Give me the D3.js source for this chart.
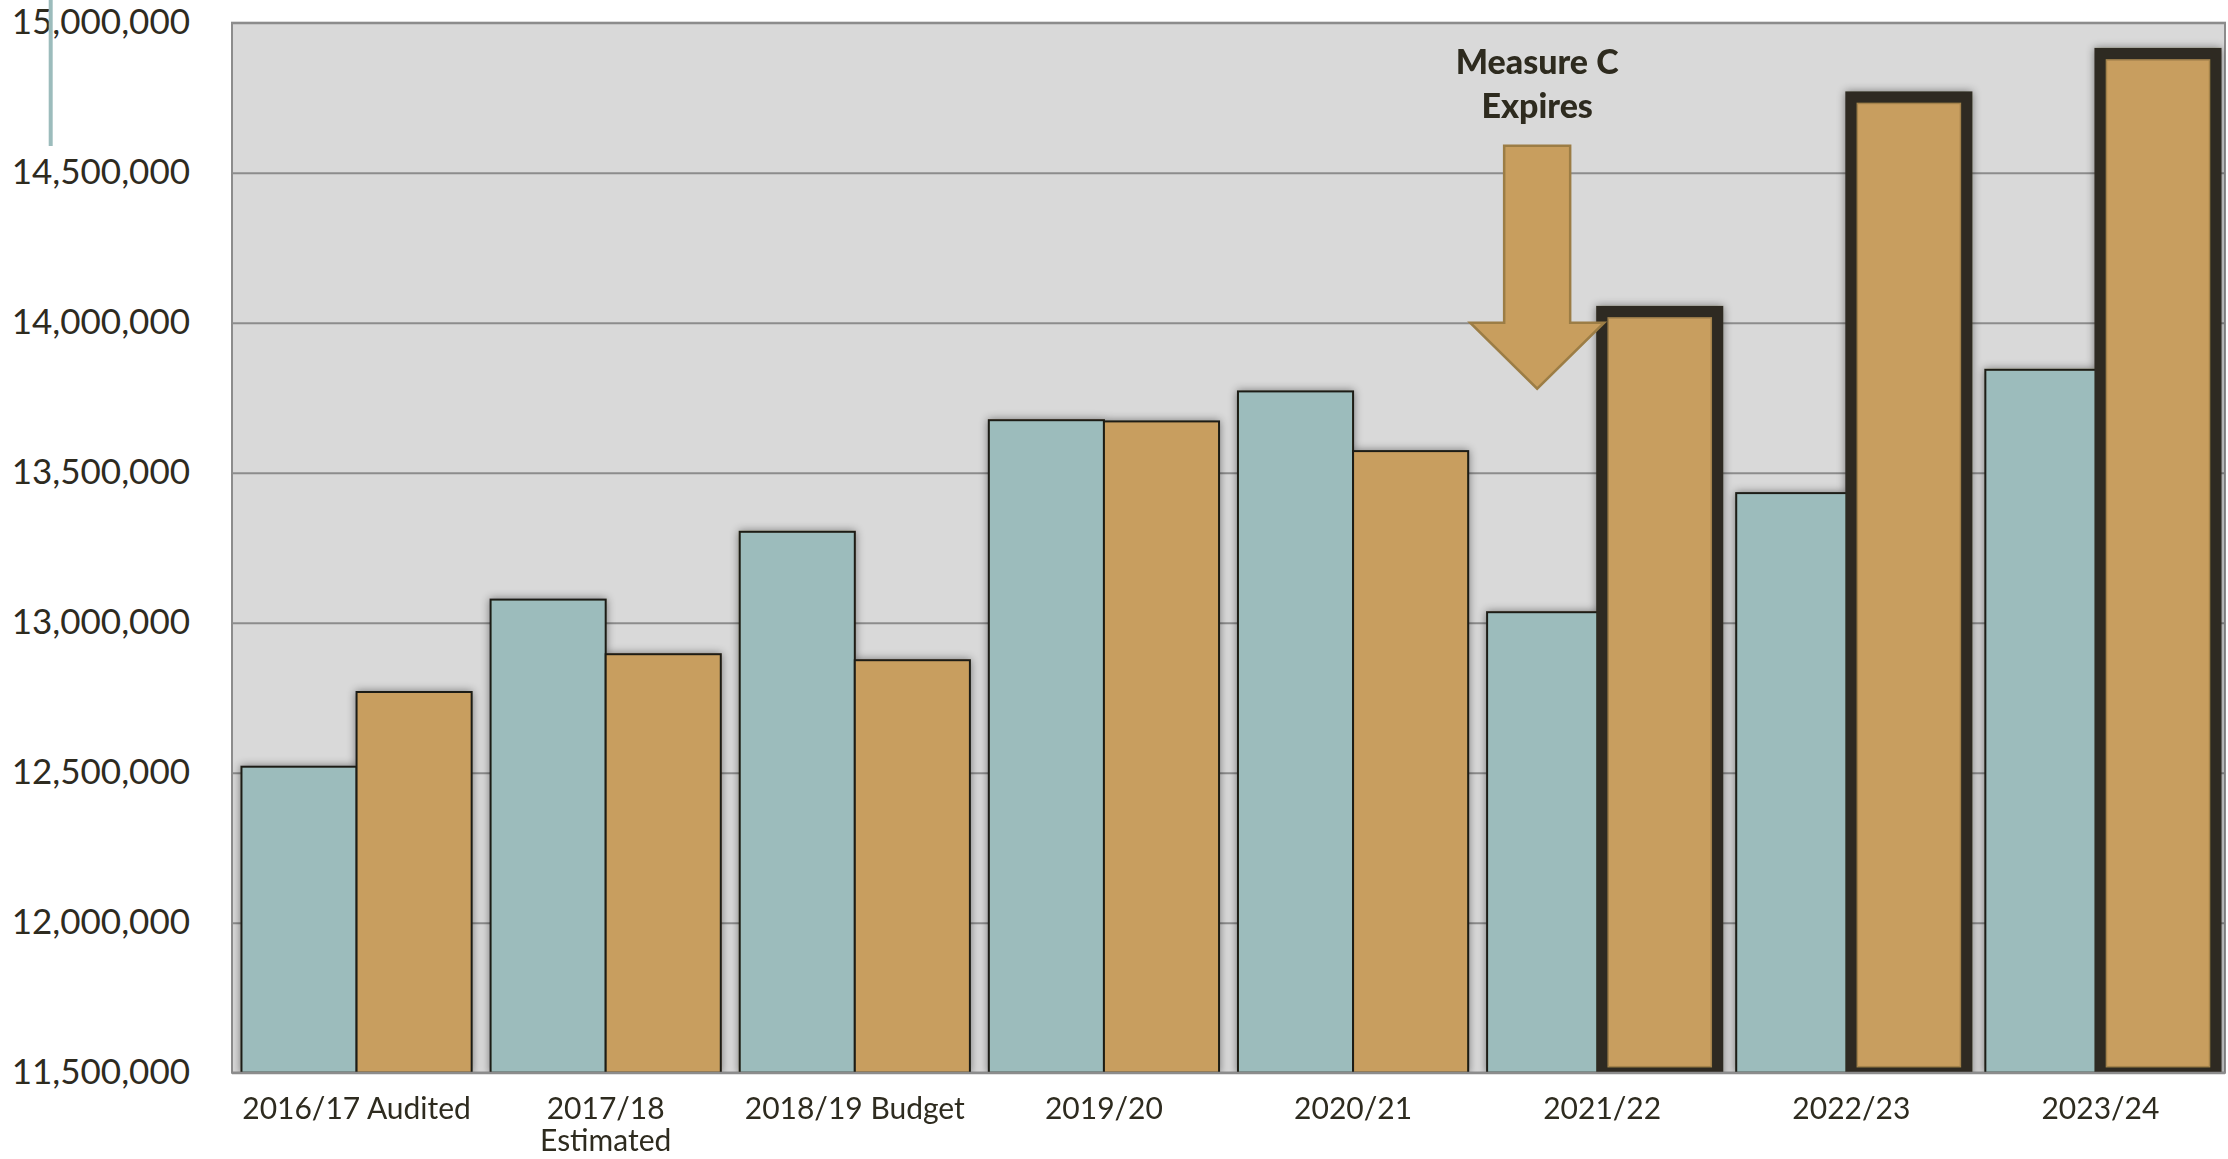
<!DOCTYPE html>
<html>
<head>
<meta charset="utf-8">
<script src="https://cdn.jsdelivr.net/npm/d3@7"></script>
<style>
body { margin: 0; background: #fff; }
text { font-family: Lato, "Noto Sans", sans-serif; fill: #2e2b1f; }
</style>
</head>
<body>
<div id="display"><svg width="2228" height="1159"></svg></div>
<script>
// values
var categories = ["2016/17 Audited", "2017/18 Estimated", "2018/19 Budget", "2019/20",
                  "2020/21", "2021/22", "2022/23", "2023/24"];
var tickLabels = [["2016/17 Audited"], ["2017/18", "Estimated"], ["2018/19 Budget"], ["2019/20"],
                  ["2020/21"], ["2021/22"], ["2022/23"], ["2023/24"]];
var tealValues = [12520000, 13077000, 13303000, 13675000, 13771000, 13035000, 13432000, 13843000];
var goldValues = [12769000, 12895000, 12875000, 13671000, 13572000, 14036000, 14751000, 14896000];
var yTicks = [11500000, 12000000, 12500000, 13000000, 13500000, 14000000, 14500000, 15000000];
var highlighted = ["2021/22", "2022/23", "2023/24"];
var noteLines = ["Measure C", "Expires"];
var noteCategory = "2021/22";
var arrowLevels = [14590000, 14000000, 13780000]; // shaft top, head base, tip

var svg = d3.select("#display svg");
// note: "top" is a window global, so use other names
var pLeft = 232, pRight = 2225, pTop = 22.7, pBottom = 1072.7;

var x0 = d3.scaleBand().domain(categories).range([pLeft, pRight])
    .paddingInner(0.076).paddingOuter(0.038);
var x1 = d3.scaleBand().domain(["teal", "gold"]).range([0, x0.bandwidth()]);
var y = d3.scaleLinear().domain([11500000, 15000000]).range([pBottom, pTop]);

var defs = svg.append("defs");
var f = defs.append("filter").attr("id", "shadow")
    .attr("x", "-10%").attr("y", "-10%").attr("width", "120%").attr("height", "120%");
f.append("feDropShadow").attr("dx", 0).attr("dy", 0).attr("stdDeviation", 4)
    .attr("flood-color", "#000").attr("flood-opacity", 0.45);
defs.append("clipPath").attr("id", "plotclip").append("rect")
    .attr("x", pLeft).attr("y", pTop - 10)
    .attr("width", pRight - pLeft).attr("height", pBottom - pTop + 10);

// plot background
svg.append("rect").attr("x", pLeft).attr("y", pTop)
    .attr("width", pRight - pLeft).attr("height", pBottom - pTop)
    .attr("fill", "#d9d9d9").attr("stroke", "#8c8c8c").attr("stroke-width", 2);

// gridlines
svg.append("g").attr("transform", "translate(" + pLeft + ",0)")
    .call(d3.axisLeft(y).tickValues(yTicks).tickSize(-(pRight - pLeft)).tickFormat(""))
    .call(function(g) { g.select(".domain").remove(); })
    .selectAll("line").attr("stroke", "#8c8c8c").attr("stroke-width", 2);

// y labels
svg.append("g").attr("transform", "translate(" + pLeft + ",0)")
    .call(d3.axisLeft(y).tickValues(yTicks).tickSize(0).tickPadding(42).tickFormat(d3.format(",")))
    .call(function(g) { g.select(".domain").remove(); })
    .selectAll("text").attr("font-size", "35px").attr("fill", "#2e2b1f")
    .style("font-family", "Lato, 'Noto Sans', sans-serif");

// decorative teal rule top left
svg.append("line").attr("x1", 50.7).attr("x2", 50.7).attr("y1", 0).attr("y2", 146)
    .attr("stroke", "#9cbcbc").attr("stroke-width", 4);

// bars
var rows = categories.map(function(c, i) {
    return { cat: c, teal: tealValues[i], gold: goldValues[i], hi: highlighted.indexOf(c) >= 0 };
});
var bars = svg.append("g").attr("clip-path", "url(#plotclip)")
    .append("g").attr("filter", "url(#shadow)");
var grp = bars.selectAll("g.cat").data(rows).enter().append("g")
    .attr("class", "cat")
    .attr("transform", function(d) { return "translate(" + x0(d.cat) + ",0)"; });

grp.append("rect")
    .attr("x", x1("teal")).attr("width", x1.bandwidth())
    .attr("y", function(d) { return y(d.teal); })
    .attr("height", function(d) { return pBottom - y(d.teal); })
    .attr("fill", "#9cbcbc").attr("stroke", "#1e1d14").attr("stroke-width", 2);

grp.append("rect")
    .attr("x", x1("gold")).attr("width", x1.bandwidth())
    .attr("y", function(d) { return y(d.gold); })
    .attr("height", function(d) { return pBottom - y(d.gold); })
    .attr("fill", "#c89e5e")
    .attr("stroke", function(d) { return d.hi ? "#2e2c20" : "#1e1d14"; })
    .attr("stroke-width", function(d) { return d.hi ? 12 : 2; });

// thin brown line just inside the heavy outline
grp.filter(function(d) { return d.hi; }).append("rect")
    .attr("x", x1("gold") + 6).attr("width", x1.bandwidth() - 12)
    .attr("y", function(d) { return y(d.gold) + 6; })
    .attr("height", function(d) { return pBottom - y(d.gold) - 12; })
    .attr("fill", "none").attr("stroke", "#a3824c").attr("stroke-width", 1.5);

// bottom axis line
svg.append("line").attr("x1", pLeft).attr("x2", pRight).attr("y1", pBottom).attr("y2", pBottom)
    .attr("stroke", "#8c8c8c").attr("stroke-width", 2);

// x labels
var xa = svg.append("g").attr("transform", "translate(0," + pBottom + ")")
    .call(d3.axisBottom(x0).tickSize(0).tickFormat(""));
xa.select(".domain").remove();
xa.selectAll(".tick").each(function(d, i) {
    var t = d3.select(this).append("text").attr("text-anchor", "middle")
        .attr("font-size", "30px").attr("fill", "#2e2b1f")
        .style("font-family", "Lato, 'Noto Sans', sans-serif");
    tickLabels[i].forEach(function(line, k) {
        t.append("tspan").attr("x", 0).attr("y", 46 + k * 32).text(line);
    });
});

// Measure C arrow, a bit left of the teal bar's middle
var ax = x0(noteCategory) + x1("teal") + x1.bandwidth() * 0.435;
var aTop = y(arrowLevels[0]), aNeck = y(arrowLevels[1]), aTip = y(arrowLevels[2]);
var arrow = d3.path();
arrow.moveTo(ax - 33, aTop); arrow.lineTo(ax + 33, aTop); arrow.lineTo(ax + 33, aNeck);
arrow.lineTo(ax + 67, aNeck); arrow.lineTo(ax, aTip); arrow.lineTo(ax - 67, aNeck);
arrow.lineTo(ax - 33, aNeck); arrow.closePath();
svg.append("path").attr("d", arrow.toString())
    .attr("fill", "#c89e5e").attr("stroke", "#9c7d45").attr("stroke-width", 2.5);

svg.append("g").selectAll("text").data(noteLines).enter().append("text")
    .attr("x", ax).attr("y", function(d, i) { return aTop - 72 + i * 44; })
    .attr("text-anchor", "middle").attr("font-size", "34px").attr("font-weight", 900)
    .attr("fill", "#111").text(function(d) { return d; });
</script>
</body>
</html>
